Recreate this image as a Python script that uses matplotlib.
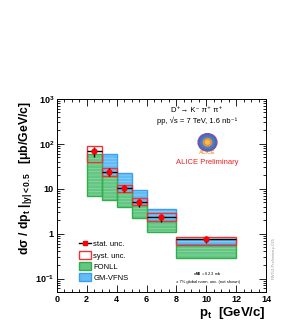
import numpy as np
import matplotlib
matplotlib.use('Agg')
import matplotlib.pyplot as plt
from matplotlib.patches import Patch, Ellipse
from matplotlib.lines import Line2D
from matplotlib.ticker import MultipleLocator, FixedLocator, FixedFormatter

# ---------- 字体 ----------
plt.rcParams['font.family'] = ['Liberation Sans', 'DejaVu Sans']
plt.rcParams['mathtext.fontset'] = 'custom'
plt.rcParams['mathtext.rm'] = 'Liberation Sans:bold'
plt.rcParams['mathtext.it'] = 'Liberation Sans:bold'
plt.rcParams['mathtext.bf'] = 'Liberation Sans:bold'
plt.rcParams['hatch.linewidth'] = 0.5

# ---------- 数据 ----------
bin_lo = [2, 3, 4, 5, 6, 8]
bin_hi = [3, 4, 5, 6, 8, 12]
pt = [2.5, 3.5, 4.5, 5.5, 7, 10]
xsec = [68, 24, 10.3, 5.0, 2.3, 0.75]
stat = [16, 5, 2.0, 1.0, 0.45, 0.12]
syst_lo = [39, 18.8, 8.3, 4.3, 1.9, 0.57]
syst_hi = [89, 28.6, 12, 6.1, 2.85, 0.86]

fonll_lo = [7.0, 5.6, 4.0, 2.24, 1.08, 0.29]
fonll_hi = [60, 19, 8.3, 4.3, 1.9, 0.55]

gm_lo_edge = [3, 4, 5, 6, 8]
gm_hi_edge = [4, 5, 6, 8, 12]
gm_lo = [16, 7.5, 4.0, 1.9, 0.59]
gm_hi = [59, 22, 9.3, 3.55, 0.77]

x_ticks = [0, 2, 4, 6, 8, 10, 12, 14]
y_ticks = [0.1, 1, 10, 100, 1000]
y_ticklabels = [r'10$^{-1}$', '1', '10', r'10$^{2}$', r'10$^{3}$']

# ---------- 画图 ----------
fig = plt.figure(figsize=(2.99, 3.22), dpi=100)
ax = fig.add_axes([0.19, 0.093, 0.70, 0.600])

def band(lo_e, hi_e, lo, hi, face, hatch_c, edge):
    lo_e = np.array(lo_e); hi_e = np.array(hi_e)
    lo = np.array(lo); hi = np.array(hi)
    ax.bar(lo_e, hi - lo, width=hi_e - lo_e, bottom=lo, align='edge',
           color=face, edgecolor=hatch_c, hatch='-----', linewidth=0, zorder=2)
    ax.bar(lo_e, hi - lo, width=hi_e - lo_e, bottom=lo, align='edge',
           fill=False, edgecolor=edge, linewidth=1.0, zorder=2)

# GM-VFNS（蓝）
band(gm_lo_edge, gm_hi_edge, gm_lo, gm_hi, '#62bdf5', '#93d2f8', '#3d9df0')
# FONLL（绿）
band(bin_lo, bin_hi, fonll_lo, fonll_hi, '#64c683', '#90d8a6', '#2fae4a')

# 系统误差框
sl = np.array(syst_lo); sh = np.array(syst_hi)
ax.bar(bin_lo, sh - sl, width=np.array(bin_hi) - np.array(bin_lo), bottom=sl,
       align='edge', fill=False, edgecolor='#ee3333', linewidth=1.0, zorder=3)

# 数据点
xerr = (np.array(bin_hi) - np.array(bin_lo)) / 2
ax.errorbar(pt, xsec, yerr=stat, xerr=xerr, fmt='o', color='black',
            ecolor='black', elinewidth=1.0, capsize=0, markersize=3.5,
            markerfacecolor='red', markeredgecolor='red', zorder=4)

# ---------- 坐标轴 ----------
ax.set_yscale('log')
ax.set_xlim(0, 14)
ax.set_ylim(0.05, 1000)
ax.xaxis.set_major_locator(FixedLocator(x_ticks))
ax.xaxis.set_minor_locator(MultipleLocator(0.5))
ax.yaxis.set_major_locator(FixedLocator(y_ticks))
ax.yaxis.set_major_formatter(FixedFormatter(y_ticklabels))
ax.tick_params(which='both', direction='in', top=True, right=True,
               labelsize=6.5, width=0.6, pad=2)
ax.tick_params(which='major', length=5)
ax.tick_params(which='minor', length=2.5)
for lab in ax.get_xticklabels() + ax.get_yticklabels():
    lab.set_fontweight('bold')
for sp in ax.spines.values():
    sp.set_linewidth(0.7)

ax.set_xlabel(r'p$_{\rm t}$  [GeV/c]', fontsize=9.5, fontweight='bold',
              loc='right', labelpad=1)
fig.text(0.084, 0.447, r'd$\sigma$ / dp$_{\rm t}$ $|_{|y|<0.5}$   [$\mu$b/GeV/c]',
         rotation=90, ha='center', va='center', fontsize=8.8, fontweight='bold')

# ---------- 文字 ----------
ax.text(0.67, 0.94, 'D⁺→ K⁻ π⁺ π⁺',
        transform=ax.transAxes, ha='center', va='center', fontsize=5.5)
ax.text(0.67, 0.886, 'pp, √s = 7 TeV, 1.6 nb⁻¹',
        transform=ax.transAxes, ha='center', va='center', fontsize=5.5)
# ALICE 标志
for w, c in [(0.09, '#6b5aa8'), (0.065, '#3d7fd0'), (0.04, '#e8903a'), (0.018, '#f0c050')]:
    ax.add_patch(Ellipse((0.72, 0.775), w, w * 1.0, transform=ax.transAxes,
                         color=c, zorder=5))
ax.text(0.72, 0.722, 'ALICE', transform=ax.transAxes, ha='center', va='center',
        fontsize=4, color='#f5a33a', fontweight='bold')
ax.text(0.72, 0.668, 'ALICE Preliminary', transform=ax.transAxes,
        ha='center', va='center', fontsize=5.5, color='#ee2222')

ax.text(0.72, 0.092, 'σ$_{MB}$ = 62.3 mb', transform=ax.transAxes,
        ha='center', va='center', fontsize=3)
ax.text(0.72, 0.05, '± 7% global norm. unc. (not shown)',
        transform=ax.transAxes, ha='center', va='center', fontsize=3)
fig.text(0.915, 0.20, 'PWG3-Preliminary-025', rotation=90, ha='center',
         va='center', fontsize=3, color='#999999')

# ---------- 图例 ----------
handles = [
    Line2D([0], [0], color='black', marker='s', markersize=3,
           markerfacecolor='red', markeredgecolor='red', lw=1.0),
    Patch(facecolor='white', edgecolor='#ee3333', linewidth=1.0),
    Patch(facecolor='#64c683', edgecolor='#2fae4a', linewidth=1.0),
    Patch(facecolor='#62bdf5', edgecolor='#3d9df0', linewidth=1.0),
]
labels = ['stat. unc.', 'syst. unc.', 'FONLL', 'GM-VFNS']
ax.legend(handles, labels, loc='lower left', bbox_to_anchor=(0.08, 0.025),
          frameon=False, fontsize=5.5, handlelength=1.6, handleheight=1.2,
          handletextpad=0.3, labelspacing=0.35, borderpad=0.2)

fig.savefig('out.png', dpi=100)
